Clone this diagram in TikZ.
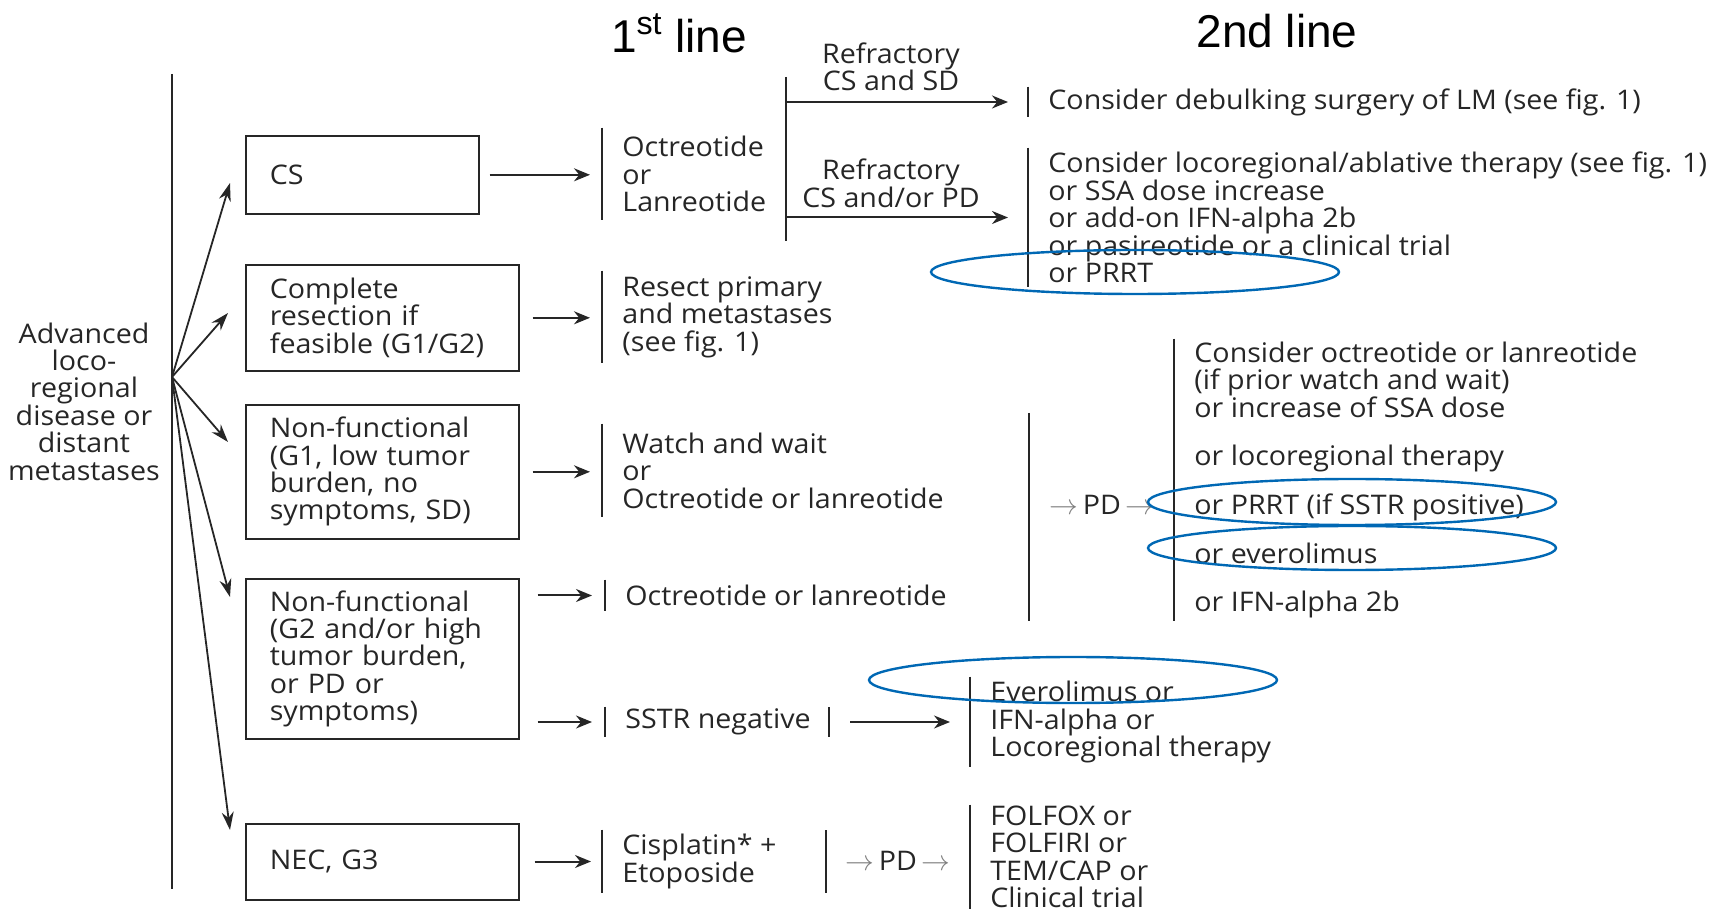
\documentclass[tikz,border=0pt]{standalone}
\usepackage{fontspec}
\setmainfont{Open Sans}[FakeStretch=1.06]
\newfontfamily\titlefont{Liberation Sans}
\usetikzlibrary{arrows.meta}
\definecolor{ink}{RGB}{38,38,38}
\definecolor{hlblue}{RGB}{0,104,180}

\tikzset{
	bar/.style={draw=ink, line width=0.7pt},
	arr/.style={draw=ink, line width=1pt, -{Stealth[length=8pt,width=6.5pt]}},
	fan/.style={draw=ink, line width=0.9pt, -{Stealth[length=9pt,width=6pt]}},
	box/.style={draw=ink, line width=0.8pt, anchor=north west, align=left, inner xsep=12pt, text width=#1},
	opt/.style={anchor=west, align=left, inner xsep=10pt, inner ysep=0pt, minimum height=#1,
		append after command={(\tikzlastnode.north west) edge[bar] (\tikzlastnode.south west)}},
	hl/.style={draw=hlblue, line width=1.2pt},
}
\newcommand{\pdarrow}{{\color{gray}$\rightarrow$}}

\begin{document}
\begin{tikzpicture}[x=0.5pt,y=-0.5pt,
	every node/.style={font=\fontsize{13.5}{13.7}\selectfont, text=ink}]
		\useasboundingbox (0,0) rectangle (1717,913);

		% titles
		\node[font=\titlefont\fontsize{23}{26}\selectfont, text=black] (ttla) at (679,33) {1\textsuperscript{st} line};
		\node[font=\titlefont\fontsize{23}{26}\selectfont, text=black] (ttlb) at (1277,31) {2nd line};

		% root
		\node[align=center] (root) at (84,401.5) {Advanced\\loco-\\regional\\disease or\\distant\\metastases};
		\draw[bar] (172,74) -- (172,889);
		\coordinate (hub) at (172,377);

		% first column
		\node[box=92.5pt, minimum height=39pt] (cs) at (245,135) {CS};
		\node[box=112.5pt, minimum height=53pt] (res) at (245,264) {Complete\\resection if\\feasible (G1/G2)};
		\node[box=112.5pt, minimum height=67pt] (nfa) at (245,404) {Non-functional\\(G1, low tumor\\burden, no\\symptoms, SD)};
		\node[box=112.5pt, minimum height=80pt] (nfb) at (245,578) {Non-functional\\(G2 and/or high\\tumor burden,\\or PD or\\symptoms)};
		\node[box=112.5pt, minimum height=38pt] (nec) at (245,823) {NEC, G3};

		\coordinate (tcs) at (230,183);
		\coordinate (tres) at (228,313);
		\coordinate (tnfa) at (228,442);
		\coordinate (tnfb) at (230,597);
		\coordinate (tnec) at (230,830);
		\foreach \t in {tcs,tres,tnfa,tnfb,tnec}
			\draw[fan] (hub) -- (\t);

		% 1st line
		\node[opt=46pt] (oct) at (602,174) {Octreotide\\or\\Lanreotide};
		\node[opt=46pt] (rsc) at (602,317) {Resect primary\\and metastases\\(see fig. 1)};
		\node[opt=46.5pt] (ww) at (602,470.5) {Watch and wait\\or\\Octreotide or lanreotide};
		\node[opt=15.5pt] (ssa) at (605,595.5) {Octreotide or lanreotide};
		\node[opt=15pt] (sstr) at (605,722) {SSTR negative};
		\node[opt=31.5pt] (cis) at (602,861.5) {Cisplatin* +\\Etoposide};

		\draw[arr, shorten <=5pt, shorten >=6pt] (cs.east) -- (oct.west |- cs.east);
		\draw[arr, shorten <=6.5pt, shorten >=6pt] (res.east) -- (rsc.west |- res.east);
		\draw[arr, shorten <=6.5pt, shorten >=6pt] (nfa.east) -- (ww.west |- nfa.east);
		\draw[arr, shorten <=9pt, shorten >=6.5pt] (nfb.east |- ssa.west) -- (ssa.west);
		\draw[arr, shorten <=9pt, shorten >=6.5pt] (nfb.east |- sstr.west) -- (sstr.west);
		\draw[arr, shorten <=7.5pt, shorten >=5.5pt] (nec.east |- cis.west) -- (cis.west);

		% refractory split
		\coordinate (splitT) at (786,77);
		\coordinate (splitB) at (786,241);
		\draw[bar] (splitT) -- (splitB);
		\node[align=center] (rfa) at (891,67) {Refractory\\CS and SD};
		\node[align=center] (rfb) at (891,183.5) {Refractory\\CS and/or PD};

		% 2nd line
		\node[opt=15pt] (debulk) at (1028,102) {Consider debulking surgery of LM (see fig. 1)};
		\node[opt=69.5pt] (loco) at (1028,217.5) {Consider locoregional/ablative therapy (see fig. 1)\\or SSA dose increase\\or add-on IFN-alpha 2b\\or pasireotide or a clinical trial\\or PRRT};
		\draw[arr, shorten >=10pt] (splitT |- debulk.west) -- (debulk.west);
		\draw[arr, shorten >=10pt] (splitT |- loco.west) -- (loco.west);

		\draw[bar] (1029,413) -- (1029,621);
		\node (pda) at (1102,505) {\pdarrow\,PD\,\pdarrow};
		\node[opt=141pt] (nfsec) at (1174,480) {Consider octreotide or lanreotide\\(if prior watch and wait)\\or increase of SSA dose\\[10.6pt]or locoregional therapy\\[10.6pt]or PRRT (if SSTR positive)\\[10.6pt]or everolimus\\[10.6pt]or IFN-alpha 2b};

		\draw[bar] (829,707) -- (829,737);
		\coordinate (sstrR) at (829,722);
		\node[opt=45pt] (evero) at (970,722) {Everolimus or\\IFN-alpha or\\Locoregional therapy};
		\draw[arr, shorten <=10.5pt, shorten >=10pt] (sstrR) -- (evero.west);

		\draw[bar] (826,830) -- (826,893);
		\node (pdb) at (898,861) {\pdarrow\,PD\,\pdarrow};
		\node[opt=52pt] (folfox) at (970,857) {FOLFOX or\\FOLFIRI or\\TEM/CAP or\\Clinical trial};

		% highlights
		\draw[hl] (1135,272) ellipse (204 and 22);
		\draw[hl] (1352,502) ellipse (204 and 23);
		\draw[hl] (1352,548) ellipse (204 and 22);
		\draw[hl] (1073,680) ellipse (204 and 23);
\end{tikzpicture}
\end{document}
